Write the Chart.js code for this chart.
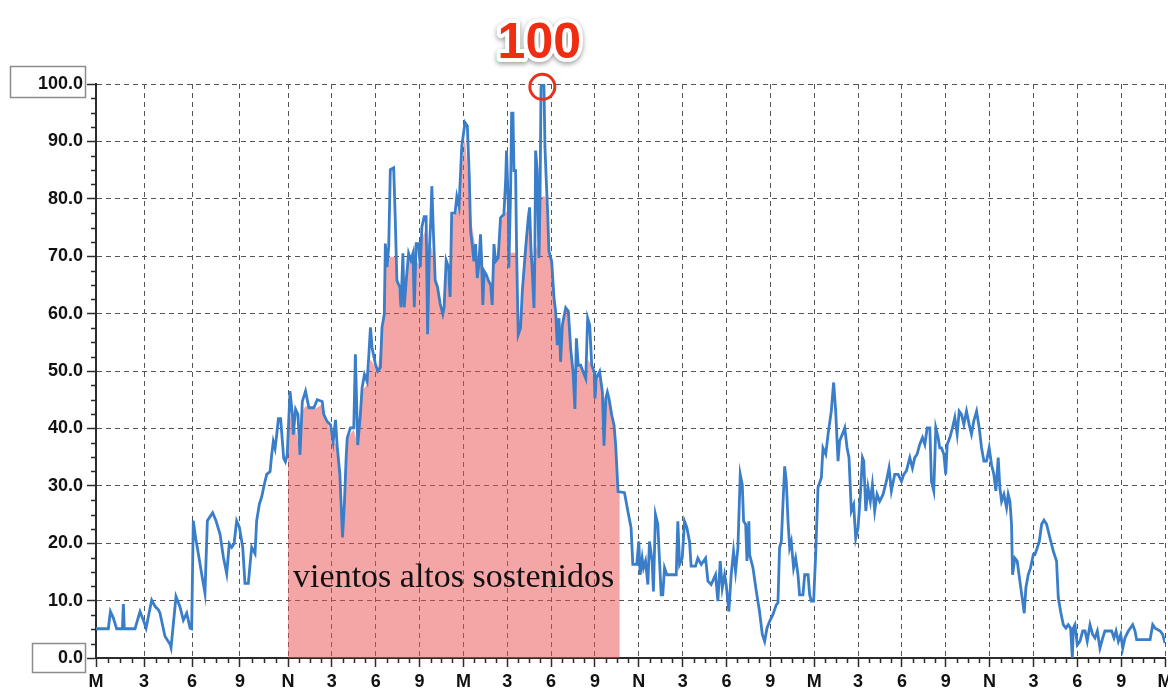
<!DOCTYPE html>
<html>
<head>
<meta charset="utf-8">
<script src="https://cdn.jsdelivr.net/npm/chart.js@4.4.1/dist/chart.umd.min.js"></script>
<style>
  body { margin: 0; background: #fff; }
  canvas { display: block; }
</style>
</head>
<body>
<canvas id="wind-chart" width="1168" height="690"></canvas>
<script>
// hour labels every 3 hours: M = midnight, N = noon
const xTickLabels = ['M','3','6','9','N','3','6','9','M','3','6','9','N','3','6','9','M','3','6','9','N','3','6','9','M'];

// wind speed trace, [hour, value]
const windTrace = [
  [0,5.1],[0.77,5.1],[0.9,8.1],[1.08,7.0],[1.29,5.1],[1.65,5.1],[1.71,9.4],[1.77,5.1],[2.44,5.1],[2.75,8.1],
  [2.96,6.6],[3.13,5.2],[3.48,10.1],[3.69,9.0],[3.9,8.4],[4.0,7.8],[4.31,3.8],[4.63,2.4],[4.69,1.8],[5.0,10.7],
  [5.25,8.9],[5.46,6.6],[5.67,7.8],[5.88,5.2],[5.98,5.1],[6.08,23.9],[6.25,20.5],[6.33,19.3],[6.6,14.7],[6.81,11.3],
  [6.96,23.9],[7.29,25.3],[7.5,23.9],[7.75,21.6],[7.96,17.6],[8.17,14.7],[8.33,19.9],[8.48,19.3],[8.63,19.9],[8.79,23.9],
  [8.96,22.8],[9.17,19.3],[9.31,13.0],[9.52,13.0],[9.73,19.3],[9.94,18.2],[10.04,23.9],[10.21,26.8],[10.35,28.0],[10.5,30.0],
  [10.67,32.0],[10.88,32.5],[10.98,35.4],[11.08,37.7],[11.19,36.5],[11.29,38.8],[11.4,41.7],[11.54,41.7],
  [11.73,34.8],[11.84,34.2],[11.95,35.4],[12.14,46.5],[12.3,42.4],[12.36,38.9],[12.52,43.3],[12.68,42.4],[12.82,35.4],[12.98,44.7],
  [13.2,46.5],[13.43,43.6],[13.77,43.6],[14.0,45.0],[14.34,44.7],[14.45,42.4],[14.68,41.2],[14.91,40.6],[15.09,37.7],[15.25,41.5],
  [15.36,37.1],[15.55,31.9],[15.73,21.0],[15.86,27.0],[15.98,35.0],[16.05,38.3],[16.27,40.1],[16.5,40.1],[16.61,52.9],[16.77,37.1],
  [16.95,42.4],[17.07,47.1],[17.23,49.4],[17.41,48.2],[17.52,52.3],[17.64,57.6],[17.75,54.1],[17.98,51.2],[18.14,50.0],[18.32,50.6],
  [18.43,57.6],[18.59,59.9],[18.66,72.2],[18.77,68.1],[18.89,71.6],[19.0,85.1],[19.23,85.4],[19.34,76.3],[19.45,65.8],[19.64,64.6],
  [19.73,61.1],[19.86,70.5],[19.95,61.1],[20.09,65.8],[20.25,70.5],[20.41,69.3],[20.55,70.5],[20.64,61.1],[20.77,72.2],[20.93,72.2],
  [21.05,68.1],[21.16,75.1],[21.32,76.9],[21.45,76.9],[21.55,56.4],[21.68,71.6],[21.77,76.3],[21.84,82.2],[21.95,74.0],[22.07,65.8],
  [22.23,64.6],[22.41,61.7],[22.59,59.9],[22.68,61.1],[22.82,69.3],[22.98,68.1],[23.09,62.9],[23.2,77.5],[23.43,77.5],[23.55,80.4],
  [23.7,78.7],[23.89,89.2],[24.11,93.3],[24.27,92.7],[24.41,83.3],
  [24.49,74.4],[24.6,72.1],[24.72,69.1],[24.83,72.1],[24.95,66.2],[25.06,68.6],[25.17,73.8],[25.24,69.7],[25.33,61.5],[25.42,67.4],
  [25.56,66.8],[25.74,65.6],[25.86,65.0],[25.97,61.5],[26.09,72.1],[26.2,69.1],[26.38,69.7],[26.54,76.7],[26.77,77.3],[26.89,83.2],
  [26.95,88.4],[27.07,79.1],[27.11,68.0],[27.23,81.4],[27.3,94.9],[27.39,94.9],[27.46,84.9],[27.57,84.9],[27.64,70.9],[27.75,56.3],
  [27.91,57.5],[28.03,63.9],[28.26,71.5],[28.44,76.7],[28.53,78.5],[28.62,71.5],[28.71,67.4],[28.83,61.0],[28.89,70.3],[28.94,88.4],
  [29.05,84.9],[29.17,69.7],[29.24,79.1],[29.31,99.5],[29.4,100],[29.51,99.8],[29.58,89.0],[29.67,83.2],[29.76,77.9],[29.85,70.9],
  [30.04,69.1],[30.2,62.7],[30.31,60.4],[30.42,54.5],[30.54,59.2],[30.65,51.6],[30.77,58.0],[31.0,61.0],[31.18,60.4],[31.34,53.9],
  [31.5,49.9],[31.63,43.4],[31.73,55.7],[31.86,51.0],[32.02,51.0],[32.18,49.9],[32.37,48.7],[32.5,59.2],[32.64,58.0],[32.78,51.0],
  [32.94,49.9],[33.0,45.2],[33.1,48.7],[33.32,49.9],[33.51,46.3],[33.62,37.0],[33.74,45.2],[33.85,46.3],[33.96,45.2],[34.15,42.3],
  [34.31,40.5],[34.42,37.0],[34.58,29.0],[35.02,28.8],[35.25,25.6],[35.47,22.7],[35.59,16.3],[35.86,16.3],
  [36.0,20.3],[36.09,14.5],[36.23,17.4],[36.32,15.7],[36.46,16.9],[36.62,12.8],[36.73,20.3],[36.91,16.9],[37.0,11.6],[37.14,25.0],
  [37.3,23.3],[37.42,16.9],[37.53,11.0],[37.64,11.0],[37.76,15.7],[37.92,14.5],[38.56,14.5],[38.67,23.8],[38.79,16.3],[38.97,17.4],
  [39.13,23.8],[39.29,22.7],[39.47,20.3],[39.58,16.0],[39.88,16.0],[40.04,17.4],[40.27,16.3],[40.57,17.4],[40.73,13.4],[40.95,12.8],
  [41.25,14.5],[41.41,9.9],[41.57,16.9],[41.71,12.2],[41.87,14.5],[41.98,12.8],[42.16,8.1],[42.32,14.5],[42.48,18.6],[42.62,15.1],
  [42.78,19.2],[42.94,32.0],[43.08,30.2],[43.17,23.8],[43.31,23.3],[43.4,16.9],[43.53,23.8],[43.58,18.0],[43.81,15.7],[44.04,11.6],
  [44.26,8.1],[44.45,4.1],[44.61,2.9],[44.77,5.2],[44.95,6.4],[45.18,7.6],[45.41,9.3],[45.52,9.6],[45.63,19.2],[45.75,20.3],
  [45.86,26.7],[45.98,33.4],[46.09,30.8],[46.21,23.8],[46.32,19.2],[46.43,20.3],[46.59,15.7],[46.73,17.4],[46.89,14.5],[47.0,11.0],
  [47.23,11.0],[47.35,14.5],[47.58,14.5],[47.69,11.0],[47.8,9.9],[47.96,9.9],[48.1,18.0],[48.26,29.7],[48.49,31.4],[48.6,36.6],
  [48.79,35.5],[48.95,39.0],[49.17,43.0],[49.33,48.0],[49.47,43.0],[49.63,34.3],[49.74,37.8],[49.93,39.0],[50.09,40.1],[50.25,36.6],
  [50.38,34.9],
  [50.54,25.6],[50.7,26.7],[50.84,20.9],[51.0,22.7],[51.16,28.5],[51.3,34.9],[51.39,34.3],[51.53,25.6],[51.68,29.7],[51.84,27.3],
  [51.98,30.2],[52.14,25.6],[52.3,28.5],[52.48,27.3],[52.71,28.5],[52.94,30.8],[53.12,33.1],[53.28,29.1],[53.51,32.0],[53.74,32.0],
  [53.97,30.8],[54.13,32.0],[54.31,32.6],[54.54,34.9],[54.72,33.1],[54.88,34.9],[55.04,35.5],[55.22,37.2],[55.41,38.4],[55.57,37.2],
  [55.73,40.1],[55.91,40.1],[56.02,30.8],[56.18,29.1],[56.32,40.1],[56.48,38.4],[56.59,36.6],[56.71,36.6],[56.87,35.5],[57.0,32.0],
  [57.1,37.2],[57.28,38.4],[57.46,40.1],[57.62,41.9],[57.78,39.0],[57.92,43.0],[58.08,42.4],[58.24,40.7],[58.42,43.0],[58.6,40.7],
  [58.76,39.0],[58.92,41.3],[59.11,43.0],[59.29,40.1],[59.45,36.6],[59.61,34.3],[59.79,34.3],[59.97,36.6],[60.13,33.7],[60.29,32.0],
  [60.43,29.1],[60.59,34.9],[60.7,29.7],[60.82,27.3],[60.98,28.5],[61.16,26.2],[61.27,28.5],[61.39,27.3],[61.5,23.3],[61.57,14.5],
  [61.73,17.4],[61.89,16.9],[62.07,13.4],[62.26,9.9],[62.37,7.8],[62.48,12.2],[62.64,14.5],[62.8,15.7],[62.99,18.0],[63.1,18.0],
  [63.26,19.2],[63.4,20.3],[63.56,23.3],[63.72,24.0],[63.9,23.3],[64.13,20.9],[64.36,18.6],[64.58,16.9],[64.7,10.5],[64.86,8.1],
  [65.04,5.8],[65.22,5.2],[65.38,5.8],[65.54,5.2],[65.66,0.0],[65.73,5.2],[65.84,5.8],[66.0,2.3],[66.18,2.9],[66.37,4.7],
  [66.53,4.7],[66.68,2.9],[66.87,5.8],[67.05,4.1],[67.21,3.5],[67.37,4.7],[67.55,1.7],[67.74,3.5],[67.89,4.7],[68.35,4.7],
  [68.51,3.5],[68.65,4.7],[68.81,2.9],[68.97,4.1],[69.11,1.7],[69.26,3.5],[69.49,4.7],[69.79,5.8],[69.95,4.7],[70.06,3.2],
  [70.98,3.2],[71.16,5.8],[71.32,5.2],[71.67,4.7],[71.84,4.1],[72.0,2.6]
];

// top edge of the pink "sustained high winds" band, [hour, value]
const highWindBand = [
  [12.0,40.1],[12.14,42.4],[12.3,40.1],[12.52,40.1],[12.82,35.4],[12.98,43.0],[13.2,43.9],[13.77,43.3],[14.34,44.2],[14.68,41.2],
  [15.09,37.7],[15.36,37.1],[15.55,31.9],[15.73,21.0],[15.86,27.0],[15.98,35.0],[16.05,38.3],[16.5,39.8],[16.77,37.1],[17.07,46.5],
  [17.41,47.7],[17.64,52.0],[18.14,50.0],[18.43,56.4],[18.66,69.9],[19.34,69.9],[19.45,65.8],[19.73,61.1],[19.86,68.1],[19.95,61.1],
  [20.09,64.6],[20.25,69.9],[20.59,68.1],[20.64,61.1],[20.77,69.3],[21.05,68.1],[21.16,72.8],[21.39,74.6],[21.55,56.4],[21.68,70.5],
  [21.84,71.6],[22.07,65.8],[22.41,61.7],[22.59,59.9],[22.82,68.7],[23.09,62.9],[23.2,76.9],[23.55,77.5],[23.77,80.4],[24.0,89.2],
  [24.11,90.4],[24.34,83.3],[24.57,75.7],[24.91,69.9],[25.06,68.6],[25.17,70.0],[25.33,61.5],[25.42,67.4],[25.74,65.6],[25.97,61.5],
  [26.09,70.0],[26.38,69.7],[26.54,76.0],[26.77,77.0],[27.0,78.0],[27.11,68.0],[27.2,70.6],[27.64,70.6],[27.75,56.3],[27.91,57.5],
  [28.03,63.9],[28.26,71.5],[28.44,76.0],[28.53,76.0],[28.62,71.5],[28.83,61.0],[28.89,70.3],[29.05,72.0],[29.17,69.7],[29.3,80.4],
  [29.6,80.4],[29.76,77.9],[29.85,70.9],[30.04,69.1],[30.2,62.7],[30.42,54.5],[30.54,59.2],[30.65,51.6],[30.77,58.0],[31.0,61.0],
  [31.18,60.4],[31.34,53.9],[31.5,49.9],[31.63,43.4],[31.73,52.0],[31.86,51.0],[32.18,49.9],[32.37,48.7],[32.5,52.0],[32.78,51.0],
  [33.0,45.2],[33.32,49.9],[33.51,46.3],[33.62,37.0],[33.74,45.2],[33.96,45.2],[34.15,42.3],[34.31,40.5],[34.42,37.0],[34.58,29.0],
  [34.7,29.0]
];

const peakHour = 29.4;
const peakValue = 100;
const peakLabel = '100';
const bandLabel = 'vientos altos sostenidos';
const bandLabelAt = [12.35, 12.3];   // hour, value of the text baseline start

// first 12 hours are drawn a bit wider than the rest in the original
const firstSpanHours = 12;
const firstSpanShare = 192 / 1069;
const totalHours = 72;

class SplitHourScale extends Chart.LinearScale {
    getPixelForValue(value) {
        let d;
        if (value <= firstSpanHours) {
            d = value / firstSpanHours * firstSpanShare;
        } else {
            d = firstSpanShare + (value - firstSpanHours) / (totalHours - firstSpanHours) * (1 - firstSpanShare);
        }
        return this.getPixelForDecimal(d);
    }
    getValueForPixel(pixel) {
        const d = this.getDecimalForPixel(pixel);
        if (d <= firstSpanShare) return d / firstSpanShare * firstSpanHours;
        return firstSpanHours + (d - firstSpanShare) / (1 - firstSpanShare) * (totalHours - firstSpanHours);
    }
}
SplitHourScale.id = 'splitHour';
SplitHourScale.defaults = Chart.LinearScale.defaults;
Chart.register(SplitHourScale);

const axisColor = '#2b2b2b';
const gridColor = '#555';
const tickFont = { family: 'Liberation Sans', size: 18, weight: 'bold' };

// minor ticks, label boxes and the annotations
const decorations = {
    id: 'decorations',
    afterDatasetsDraw(chart) {
        const { ctx, scales: { x, y } } = chart;
        ctx.save();
        ctx.font = '34px "Liberation Serif"';
        ctx.fillStyle = '#111';
        ctx.textBaseline = 'alphabetic';
        ctx.fillText(bandLabel, x.getPixelForValue(bandLabelAt[0]), y.getPixelForValue(bandLabelAt[1]));
        ctx.restore();
    },
    afterDraw(chart) {
        const { ctx, chartArea, scales: { x, y } } = chart;
        ctx.save();

        // minor ticks
        ctx.strokeStyle = axisColor;
        ctx.lineWidth = 1.5;
        ctx.beginPath();
        for (let v = 2.5; v < 100; v += 2.5) {
            if (v % 10 === 0) continue;
            const py = Math.round(y.getPixelForValue(v)) + 0.5;
            ctx.moveTo(chartArea.left - 5, py);
            ctx.lineTo(chartArea.left, py);
        }
        for (let h = 0.75; h < totalHours; h += 0.75) {
            if (h % 3 === 0) continue;
            const px = Math.round(x.getPixelForValue(h)) + 0.5;
            ctx.moveTo(px, chartArea.bottom);
            ctx.lineTo(px, chartArea.bottom + 5);
        }
        ctx.stroke();

        // boxes round the top and bottom y labels
        ctx.strokeStyle = '#8c8c8c';
        ctx.lineWidth = 1.5;
        const yTop = y.getPixelForValue(100);
        const yBottom = y.getPixelForValue(0);
        ctx.strokeRect(10.5, Math.round(yTop) - 17.5, 75, 31);
        ctx.strokeRect(32.5, Math.round(yBottom) - 14.5, 53, 29);

        // peak marker
        const cx = x.getPixelForValue(peakHour);
        const cy = y.getPixelForValue(peakValue - 0.5);
        ctx.strokeStyle = '#e8321e';
        ctx.lineWidth = 3;
        ctx.beginPath();
        ctx.arc(cx, cy, 12.5, 0, Math.PI * 2);
        ctx.stroke();

        ctx.font = 'bold 50px "Liberation Sans"';
        ctx.textAlign = 'center';
        ctx.textBaseline = 'alphabetic';
        ctx.lineJoin = 'round';
        const tx = cx - 3;
        const ty = yTop - 26;
        ctx.shadowColor = 'rgba(0,0,0,0.4)';
        ctx.shadowBlur = 5;
        ctx.shadowOffsetY = 2;
        ctx.strokeStyle = '#fff';
        ctx.lineWidth = 8;
        ctx.strokeText(peakLabel, tx, ty);
        ctx.shadowColor = 'transparent';
        ctx.fillStyle = '#ee2d12';
        ctx.fillText(peakLabel, tx, ty);
        ctx.restore();
    }
};

new Chart(document.querySelector('#wind-chart').getContext('2d'), {
    type: 'line',
    data: {
        datasets: [
            {
                label: 'viento',
                data: windTrace.map(p => ({ x: p[0], y: p[1] })),
                borderColor: '#3a7dc9',
                borderWidth: 2.8,
                pointRadius: 0,
                tension: 0,
                fill: false,
                order: 0
            },
            {
                label: bandLabel,
                data: highWindBand.map(p => ({ x: p[0], y: p[1] })),
                borderWidth: 0,
                borderColor: 'rgba(0,0,0,0)',
                backgroundColor: 'rgba(234,78,78,0.5)',
                pointRadius: 0,
                tension: 0,
                fill: 'origin',
                order: 1
            }
        ]
    },
    options: {
        responsive: false,
        animation: false,
        layout: { padding: { top: 84, right: 3, left: 0, bottom: 0 } },
        plugins: {
            legend: { display: false },
            tooltip: { enabled: false }
        },
        scales: {
            x: {
                type: 'splitHour',
                min: 0,
                max: totalHours,
                afterFit(scale) {
                    scale.height = 32;
                    scale.paddingLeft = 0;
                    scale.paddingRight = 0;
                },
                ticks: {
                    stepSize: 3,
                    autoSkip: false,
                    maxRotation: 0,
                    padding: 4,
                    color: '#111',
                    font: tickFont,
                    callback: v => xTickLabels[Math.round(v / 3)]
                },
                grid: {
                    color: gridColor,
                    lineWidth: 1,
                    tickLength: 9,
                    tickColor: axisColor,
                    tickWidth: 1.5
                },
                border: { display: true, color: axisColor, width: 2, dash: [5, 4] }
            },
            y: {
                min: 0,
                max: 100,
                afterFit(scale) {
                    scale.width = 96;
                    scale.paddingTop = 0;
                    scale.paddingBottom = 0;
                },
                ticks: {
                    stepSize: 10,
                    padding: 4,
                    color: '#111',
                    font: tickFont,
                    callback: v => v.toFixed(1)
                },
                grid: {
                    color: gridColor,
                    lineWidth: 1,
                    tickLength: 9,
                    tickColor: axisColor,
                    tickWidth: 1.5
                },
                border: { display: true, color: axisColor, width: 2, dash: [5, 4] }
            }
        }
    },
    plugins: [decorations]
});
</script>
</body>
</html>
